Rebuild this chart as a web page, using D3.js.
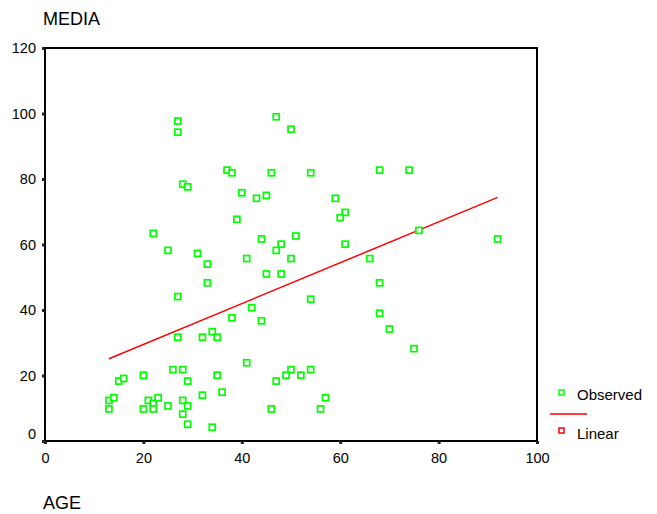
<!DOCTYPE html>
<html>
<head>
<meta charset="utf-8">
<script src="https://cdn.jsdelivr.net/npm/d3@7"></script>
<style>
  body { margin: 0; background: #fff; }
  text { font-family: Arial, "Liberation Sans", sans-serif; fill: #000; }
</style>
</head>
<body>
<div id="chart"></div>
<script>
// -------- Data --------
const age = [
  27, 27, 47, 50, 37, 38, 46, 54, 68, 74,
  28, 29, 40, 43, 45, 59, 61, 60, 39, 76,
  22, 44, 51, 48, 47, 61, 92, 25, 31, 33,
  41, 50, 66, 45, 48, 68, 33, 27, 54, 42,
  68, 38, 44, 70, 27, 32, 34, 35, 75, 41,
  26, 28, 20, 15, 16, 29, 35, 50, 49, 47,
  52, 54, 13, 14, 13, 21, 22, 23, 20, 22,
  25, 28, 29, 28, 32, 29, 34, 36, 57, 46,
  56
];
const media = [
  97.7, 94.3, 99.0, 95.2, 82.7, 81.9, 81.9, 81.9, 82.7, 82.7,
  78.4, 77.6, 75.8, 74.1, 75.0, 74.1, 69.8, 68.2, 67.7, 64.3,
  63.4, 61.7, 62.6, 60.1, 58.2, 60.1, 61.7, 58.2, 57.3, 54.0,
  55.7, 55.7, 55.7, 51.0, 51.0, 48.3, 48.3, 44.1, 43.3, 40.7,
  39.0, 37.6, 36.7, 34.2, 31.7, 31.7, 33.4, 31.7, 28.2, 23.9,
  21.8, 21.8, 20.1, 18.3, 19.1, 18.3, 20.1, 21.8, 20.1, 18.3,
  20.1, 21.8, 12.4, 13.2, 9.8, 12.4, 11.5, 13.2, 9.8, 9.8,
  10.7, 12.4, 10.7, 8.2, 14.0, 5.1, 4.2, 14.9, 13.2, 9.8,
  9.8
];
// linear fit endpoints
const fitAge   = [13, 92];
const fitMedia = [25.1, 74.4];

const xTicks = [0, 20, 40, 60, 80, 100];
const yTicks = [0, 20, 40, 60, 80, 100, 120];
const legendLabels = ['Observed', 'Linear'];

// -------- Dimensions --------
const dims = { width: 657, height: 514, left: 45, top: 48, right: 537, bottom: 441 };

const svg = d3.select('#chart')
  .append('svg')
  .attr('width', dims.width)
  .attr('height', dims.height);

// -------- Scales --------
const x = d3.scaleLinear().domain([0, 100]).range([dims.left, dims.right]);
const y = d3.scaleLinear().domain([0, 120]).range([dims.bottom, dims.top]);

// -------- Frame --------
svg.append('rect')
  .attr('x', dims.left)
  .attr('y', dims.top)
  .attr('width', dims.right - dims.left)
  .attr('height', dims.bottom - dims.top)
  .attr('fill', 'none')
  .attr('stroke', '#000')
  .attr('stroke-width', 2);

// -------- Axes --------
const yAxis = svg.append('g')
  .attr('transform', `translate(${dims.left},0)`)
  .call(d3.axisLeft(y).tickValues(yTicks).tickSize(3).tickPadding(6).tickFormat(d3.format('d')));

const xAxis = svg.append('g')
  .attr('transform', `translate(0,${dims.bottom})`)
  .call(d3.axisBottom(x).tickValues(xTicks).tickSize(3).tickPadding(9).tickFormat(d3.format('d')));

[yAxis, xAxis].forEach(ax => {
  ax.select('.domain').remove();
  ax.selectAll('.tick line').attr('stroke', '#222').attr('stroke-width', 3);
  ax.selectAll('.tick text').attr('font-size', 14.5).attr('font-family', null);
});
// the zero label sits a little above its tick, as in the original
yAxis.selectAll('.tick').filter(d => d === 0).select('text').attr('dy', '-0.2em');

// -------- Fit line --------
svg.append('line')
  .attr('x1', x(fitAge[0])).attr('y1', y(fitMedia[0]))
  .attr('x2', x(fitAge[1])).attr('y2', y(fitMedia[1]))
  .attr('stroke', '#ff0000')
  .attr('stroke-width', 1.5);

// -------- Points --------
const pts = age.map((a, i) => ({ age: a, media: media[i] }));
svg.append('g').selectAll('rect')
  .data(pts)
  .join('rect')
    .attr('x', d => x(d.age) - 3)
    .attr('y', d => y(d.media) - 3)
    .attr('width', 6)
    .attr('height', 6)
    .attr('fill', '#fff')
    .attr('stroke', '#00ff00')
    .attr('stroke-width', 1.7);

// -------- Titles --------
svg.append('text').attr('x', 43).attr('y', 25).attr('font-size', 18).text('MEDIA');
svg.append('text').attr('x', 43).attr('y', 509).attr('font-size', 18).text('AGE');

// -------- Legend --------
const legend = svg.append('g');
legend.append('rect')
  .attr('x', 559).attr('y', 390).attr('width', 5).attr('height', 5)
  .attr('fill', '#fff').attr('stroke', '#00ff00').attr('stroke-width', 1.5);
legend.append('text').attr('x', 577).attr('y', 400).attr('font-size', 15).text(legendLabels[0]);
legend.append('line')
  .attr('x1', 550).attr('x2', 587).attr('y1', 414).attr('y2', 414)
  .attr('stroke', '#ff0000').attr('stroke-width', 1.5);
legend.append('rect')
  .attr('x', 559).attr('y', 428).attr('width', 5).attr('height', 5)
  .attr('fill', '#fff').attr('stroke', '#ff0000').attr('stroke-width', 1.5);
legend.append('text').attr('x', 577).attr('y', 439).attr('font-size', 15).text(legendLabels[1]);
</script>
</body>
</html>
